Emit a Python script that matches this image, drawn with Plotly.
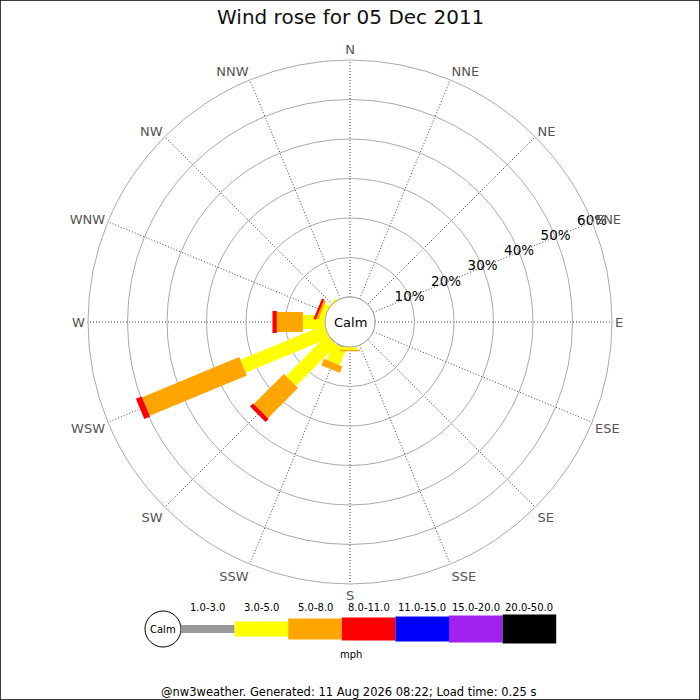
import plotly.graph_objects as go

# compass sectors
directions = ["N", "NNE", "NE", "ENE", "E", "ESE", "SE", "SSE",
              "S", "SSW", "SW", "WSW", "W", "WNW", "NW", "NNW"]
angles = [i * 22.5 for i in range(16)]

# speed bins (mph) and frequency (%) per direction
bins = ["1.0-3.0", "3.0-5.0", "5.0-8.0", "8.0-11.0", "11.0-15.0", "15.0-20.0", "20.0-50.0"]
bin_colors = ["#999999", "#ffff00", "#ffa500", "#ff0000", "#0000ff", "#a020f0", "#000000"]

pct_1_3 = [0, 0, 0, 0, 0, 0, 0, 0, 0, 0.3, 0.2, 0, 0, 0, 0, 0]
pct_3_5 = [0, 0, 0, 0, 0, 0, 0, 0, 0.7, 4.5, 14.6, 23.0, 5.6, 1.3, 0.4, 0]
pct_5_8 = [0, 0, 0, 0, 0, 0, 0, 0, 0.4, 1.8, 10.8, 26.6, 6.6, 0.6, 0, 0]
pct_8_11 = [0, 0, 0, 0, 0, 0, 0, 0, 0, 0, 1.1, 1.6, 1.1, 0.6, 0, 0]
series = [pct_1_3, pct_3_5, pct_5_8, pct_8_11]

radial_ticks = [10, 20, 30, 40, 50, 60]
label_dir = 67.5  # ENE, where the % labels sit

# leg width in px per speed bin (jpgraph style)
leg_widths = [7, 14, 20, 22, 24, 26, 28]

W = H = 700
cx, cy, R, calm_r = 350, 322, 262, 25

fig = go.Figure()

# calm circle edge (r = 0 sits on the hole)
fig.add_trace(go.Scatterpolar(
    r=[0] * 73, theta=[i * 5 for i in range(73)], mode="lines",
    line=dict(color="#999999", width=1), hoverinfo="skip", showlegend=False))

cum = [0.0] * 16
for k, vals in enumerate(series):
    rr, tt = [], []
    for i, v in enumerate(vals):
        if v > 0:
            rr += [cum[i], cum[i] + v, None]
            tt += [angles[i], angles[i], None]
            cum[i] += v
    fig.add_trace(go.Scatterpolar(
        r=rr, theta=tt, mode="lines", name=bins[k],
        line=dict(color=bin_colors[k], width=leg_widths[k]),
        showlegend=False, hoverinfo="skip"))

# percentage labels centred on the rings
fig.add_trace(go.Scatterpolar(
    r=radial_ticks, theta=[label_dir] * len(radial_ticks), mode="text",
    text=[f"{t}%" for t in radial_ticks], textposition="middle center",
    textfont=dict(size=13.5, color="#000000", family="DejaVu Sans"),
    hoverinfo="skip", showlegend=False))

fig.update_layout(
    width=W, height=H,
    margin=dict(l=0, r=0, t=0, b=0),
    paper_bgcolor="white",
    font=dict(family="DejaVu Sans", color="#000"),
    polar=dict(
        domain=dict(x=[(cx - R) / W, (cx + R) / W],
                    y=[(H - cy - R) / H, (H - cy + R) / H]),
        hole=calm_r / R,
        bgcolor="white",
        angularaxis=dict(
            rotation=90, direction="clockwise",
            tickmode="array", tickvals=angles, ticktext=directions,
            ticks="", showline=True, linecolor="#aaaaaa", linewidth=1,
            gridcolor="#444444", griddash="1px,2px", gridwidth=1,
            tickfont=dict(size=13, color="#555555")),
        radialaxis=dict(
            range=[0, 60], tickmode="array", tickvals=radial_ticks,
            showticklabels=False, showline=False, ticks="",
            gridcolor="#aaaaaa", gridwidth=1),
    ),
)

shapes = [dict(type="rect", xref="paper", yref="paper", x0=0, y0=0, x1=1, y1=1,
               line=dict(color="black", width=1.5))]


def note(text, x, y, size, color="#000"):
    return dict(text=text, x=x / W, y=1 - y / H, xref="paper", yref="paper",
                xanchor="center", yanchor="middle", showarrow=False,
                font=dict(size=size, color=color))


annotations = [
    note("Wind rose for 05 Dec 2011", cx, 17, 20, "#111"),
    note("Calm", cx, cy, 13),
]

# legend strip at the bottom
lx0, ly, seg = 181, 629, 53.6
shapes.append(dict(type="circle", xref="paper", yref="paper",
                   x0=(163 - 18) / W, x1=(163 + 18) / W,
                   y0=1 - (ly + 18) / H, y1=1 - (ly - 18) / H,
                   line=dict(color="black", width=1), fillcolor="white"))
annotations.append(note("Calm", 163, ly, 10))
for k, lab in enumerate(bins):
    x0 = lx0 + k * seg
    h = leg_widths[k] + 1
    shapes.append(dict(type="rect", xref="paper", yref="paper",
                       x0=x0 / W, x1=(x0 + seg) / W,
                       y0=1 - (ly + h / 2) / H, y1=1 - (ly - h / 2) / H,
                       line=dict(width=0), fillcolor=bin_colors[k]))
    annotations.append(note(lab, x0 + seg / 2, 607, 10))
annotations.append(note("mph", 351, 654, 10))
annotations.append(note("@nw3weather. Generated: 11 Aug 2026 08:22; Load time: 0.25 s",
                        348, 692, 11.5))

fig.update_layout(shapes=shapes, annotations=annotations)
fig.write_html("out.html", config={"displayModeBar": False},
               post_script="document.body.style.margin='0';")
